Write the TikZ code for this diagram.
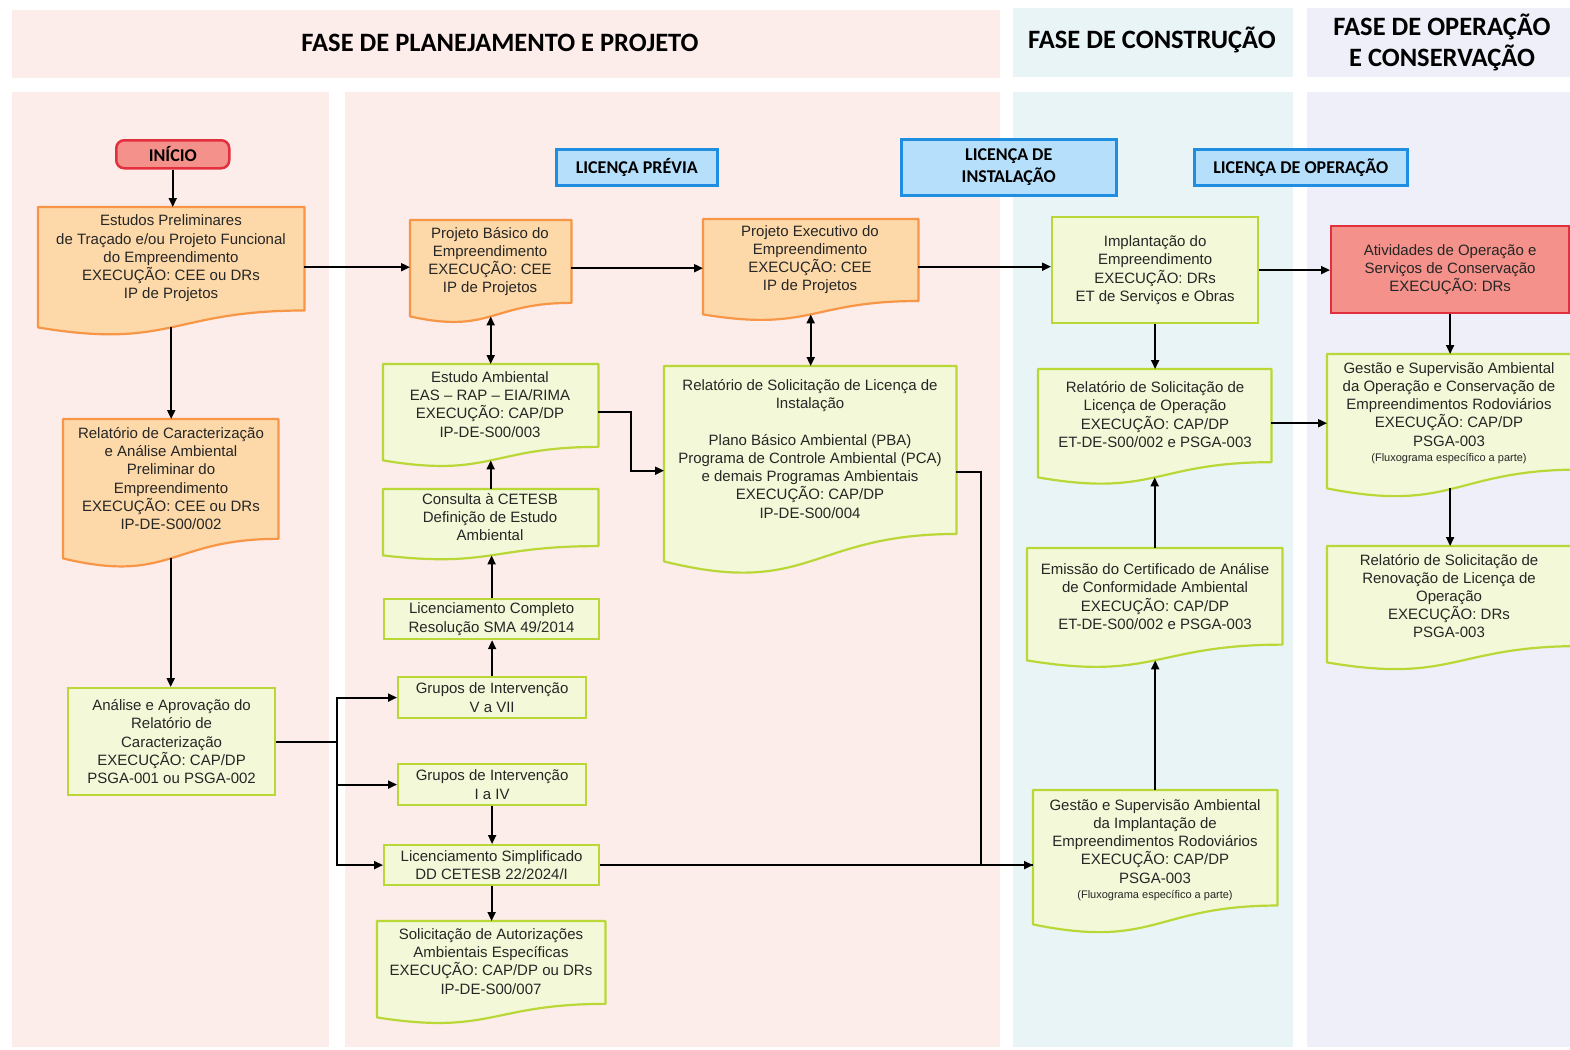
\documentclass[tikz,border=0pt]{standalone}
\usepackage{fontspec}
\setmainfont{Liberation Sans}
\newfontfamily\hdfont{Carlito}
\usetikzlibrary{arrows.meta,calc}
\definecolor{pinkbg}{HTML}{FCECEA}
\definecolor{bluebg}{HTML}{E9F4F6}
\definecolor{lavbg}{HTML}{EFEFF9}
\definecolor{orgF}{HTML}{FDD9A9}
\definecolor{orgB}{HTML}{F79646}
\definecolor{grnF}{HTML}{F3F9D8}
\definecolor{grnB}{HTML}{B9D737}
\definecolor{redF}{HTML}{F4918A}
\definecolor{redB}{HTML}{E2303F}
\definecolor{lblF}{HTML}{B5DFFB}
\definecolor{lblB}{HTML}{1F8EE0}
\definecolor{txtc}{HTML}{262626}
\pgfdeclarelayer{bg}
\pgfdeclarelayer{shp}
\pgfsetlayers{bg,shp,main}
\newcommand\docshape[3]{\draw[line width=2.2pt, draw=#3, fill=#2, line join=round]
  (#1.north west) -- (#1.north east) -- ($(#1.south east)!0.1404!(#1.north east)$)
  .. controls ($(#1.south)!0.1404!(#1.north)$) and ($(#1.south)!-0.1865!(#1.north)$) .. (#1.south west) -- cycle;}
\begin{document}
\begin{tikzpicture}[x=1pt,y=-1pt,
  ln/.style={line width=1.9pt, draw=black},
  arr/.style={ln, -{Triangle[length=9pt,width=8pt]}},
  darr/.style={ln, {Triangle[length=9pt,width=8pt]}-{Triangle[length=9pt,width=8pt]}},
  bodyf/.style={font=\fontsize{15}{18.2}\selectfont, text=txtc, align=center},
  gbox/.style={bodyf, rectangle, draw=grnB, fill=grnF, line width=2.2pt, inner sep=0pt, anchor=north west},
  rbox/.style={gbox, draw=redB, fill=redF},
  docn/.style={rectangle, inner sep=0pt, anchor=north west},
  dtext/.style={bodyf, inner sep=0pt},
  lbl/.style={rectangle, draw=lblB, fill=lblF, line width=2.5pt, inner sep=0pt, anchor=north west, align=center, font=\hdfont\bfseries\fontsize{18}{22}\selectfont, text=black},
  hdr/.style={font=\hdfont\bfseries\fontsize{26.5}{31}\selectfont, align=center, text=black, inner sep=0pt}
]
\useasboundingbox (0,0) rectangle (1570,1049);
\begin{pgfonlayer}{bg}
\fill[white] (0,0) rectangle (1570,1049);
\fill[pinkbg] (12,10) rectangle (1000,78);
\fill[bluebg] (1013,8) rectangle (1293,77);
\fill[lavbg] (1307,8) rectangle (1570,77);
\fill[pinkbg] (12,92) rectangle (329,1047);
\fill[pinkbg] (345,92) rectangle (1000,1047);
\fill[bluebg] (1013,92) rectangle (1293,1047);
\fill[lavbg] (1307,92) rectangle (1570,1047);
\end{pgfonlayer}

% headers
\node[hdr] (h1) at (500,43) {FASE DE PLANEJAMENTO E PROJETO};
\node[hdr] (h2) at (1152,40) {FASE DE CONSTRUÇÃO};
\node[hdr] (h3) at (1442,42) {FASE DE OPERAÇÃO\\E CONSERVAÇÃO};

% licence labels
\node[lbl, minimum width=161pt, minimum height=36pt] (lp) at (555,148) {LICENÇA PRÉVIA};
\node[lbl, minimum width=215pt, minimum height=56pt] (li) at (900,138) {LICENÇA DE\\INSTALAÇÃO};
\node[lbl, minimum width=213pt, minimum height=36pt] (lo) at (1193,148) {LICENÇA DE OPERAÇÃO};

% start
\node[rectangle, rounded corners=8pt, draw=redB, fill=redF, line width=2.5pt, anchor=north west,
  minimum width=113pt, minimum height=28pt, inner sep=0pt, font=\hdfont\bfseries\fontsize{18}{22}\selectfont] (ini) at (115,139) {INÍCIO};

% document-shaped nodes (outline drawn below)
\node[docn, minimum width=266pt, minimum height=120pt] (est) at (38,207) {};
\node[docn, minimum width=215pt, minimum height=139pt] (rca) at (63,419) {};
\node[docn, minimum width=161pt, minimum height=96pt] (pb) at (410,220) {};
\node[docn, minimum width=215pt, minimum height=95pt] (pe) at (703,219) {};
\node[docn, minimum width=215pt, minimum height=96pt] (ea) at (383,364) {};
\node[docn, minimum width=292pt, minimum height=195pt] (rli) at (664,366) {};
\node[docn, minimum width=215pt, minimum height=66pt] (cc) at (383,489) {};
\node[docn, minimum width=228pt, minimum height=96pt] (sol) at (377,921) {};
\node[docn, minimum width=233pt, minimum height=108pt] (rlo) at (1038,369) {};
\node[docn, minimum width=255pt, minimum height=112pt] (emi) at (1027,548) {};
\node[docn, minimum width=244pt, minimum height=134pt] (gsi) at (1033,790) {};
\node[docn, minimum width=253pt, minimum height=134pt] (gso) at (1327,354) {};
\node[docn, minimum width=253pt, minimum height=116pt] (rren) at (1327,546) {};

\begin{pgfonlayer}{shp}
\docshape{est}{orgF}{orgB}
\docshape{rca}{orgF}{orgB}
\docshape{pb}{orgF}{orgB}
\docshape{pe}{orgF}{orgB}
\docshape{ea}{grnF}{grnB}
\docshape{rli}{grnF}{grnB}
\docshape{cc}{grnF}{grnB}
\docshape{sol}{grnF}{grnB}
\docshape{rlo}{grnF}{grnB}
\docshape{emi}{grnF}{grnB}
\docshape{gsi}{grnF}{grnB}
\docshape{gso}{grnF}{grnB}
\docshape{rren}{grnF}{grnB}
\end{pgfonlayer}

% texts of document nodes
\node[dtext] (est-t) at (171,258.5) {Estudos Preliminares\\de Traçado e/ou Projeto Funcional\\do Empreendimento\\EXECUÇÃO: CEE ou DRs\\IP de Projetos};
\node[dtext] (rca-t) at (171,478.5) {Relatório de Caracterização\\e Análise Ambiental\\Preliminar do\\Empreendimento\\EXECUÇÃO: CEE ou DRs\\IP-DE-S00/002};
\node[dtext] (pb-t) at (490,261.5) {Projeto Básico do\\Empreendimento\\EXECUÇÃO: CEE\\IP de Projetos};
\node[dtext] (pe-t) at (810,259.5) {Projeto Executivo do\\Empreendimento\\EXECUÇÃO: CEE\\IP de Projetos};
\node[dtext] (ea-t) at (490,404.5) {Estudo Ambiental\\EAS – RAP – EIA/RIMA\\EXECUÇÃO: CAP/DP\\IP-DE-S00/003};
\node[dtext] (cc-t) at (490,517) {Consulta à CETESB\\Definição de Estudo\\Ambiental};
\node[dtext] (rli-t) at (810,449) {Relatório de Solicitação de Licença de\\Instalação\\[18.2pt]Plano Básico Ambiental (PBA)\\Programa de Controle Ambiental (PCA)\\e demais Programas Ambientais\\EXECUÇÃO: CAP/DP\\IP-DE-S00/004};
\node[dtext] (sol-t) at (491,961.5) {Solicitação de Autorizações\\Ambientais Específicas\\EXECUÇÃO: CAP/DP ou DRs\\IP-DE-S00/007};
\node[dtext] (rlo-t) at (1155,414.5) {Relatório de Solicitação de\\Licença de Operação\\EXECUÇÃO: CAP/DP\\ET-DE-S00/002 e PSGA-003};
\node[dtext] (emi-t) at (1155,596.5) {Emissão do Certificado de Análise\\de Conformidade Ambiental\\EXECUÇÃO: CAP/DP\\ET-DE-S00/002 e PSGA-003};
\node[dtext] (gsi-t) at (1155,850) {Gestão e Supervisão Ambiental\\da Implantação de\\Empreendimentos Rodoviários\\EXECUÇÃO: CAP/DP\\PSGA-003\\[-3pt]{\fontsize{11}{13}\selectfont (Fluxograma específico a parte)}};
\node[dtext] (gso-t) at (1449,413) {Gestão e Supervisão Ambiental\\da Operação e Conservação de\\Empreendimentos Rodoviários\\EXECUÇÃO: CAP/DP\\PSGA-003\\[-3pt]{\fontsize{11}{13}\selectfont (Fluxograma específico a parte)}};
\node[dtext] (rren-t) at (1449,596) {Relatório de Solicitação de\\Renovação de Licença de\\Operação\\EXECUÇÃO: DRs\\PSGA-003};

% rectangular nodes
\node[gbox, minimum width=207pt, minimum height=107pt] (ana) at (67,687) {Análise e Aprovação do\\Relatório de\\Caracterização\\EXECUÇÃO: CAP/DP\\PSGA-001 ou PSGA-002};
\node[gbox, minimum width=215pt, minimum height=40pt] (lc) at (383,598) {Licenciamento Completo\\Resolução SMA 49/2014};
\node[gbox, minimum width=188pt, minimum height=41pt] (gv) at (397,676) {Grupos de Intervenção\\V a VII};
\node[gbox, minimum width=188pt, minimum height=41pt] (gi) at (397,763) {Grupos de Intervenção\\I a IV};
\node[gbox, minimum width=215pt, minimum height=40pt] (ls) at (383,844) {Licenciamento Simplificado\\DD CETESB 22/2024/I};
\node[gbox, minimum width=206pt, minimum height=106pt] (imp) at (1051,216) {Implantação do\\Empreendimento\\EXECUÇÃO: DRs\\ET de Serviços e Obras};
\node[rbox, minimum width=238pt, minimum height=87pt] (atv) at (1330,225) {Atividades de Operação e\\Serviços de Conservação\\EXECUÇÃO: DRs};

% connectors
\draw[arr] (ini.south) -- (ini.south |- est.north);
\draw[arr] (est.south) -- (est.south |- rca.north);
\draw[arr] (rca.south) -- (rca.south |- ana.north);
\draw[arr] (est.east) -- (est.east -| pb.west);
\draw[arr] (pb.east) -- (pb.east -| pe.west);
\draw[arr] (pe.east) -- (pe.east -| imp.west);
\draw[arr] (imp.east) -- (imp.east -| atv.west);
\draw[darr] (pb.south) -- (pb.south |- ea.north);
\draw[darr] (pe.south) -- (pe.south |- rli.north);
\draw[arr] (cc.north) -- (cc.north |- ea.south);
\draw[arr] (lc.north) -- (lc.north |- cc.south);
\draw[arr] (gv.north) -- (gv.north |- lc.south);
\draw[arr] (gi.south) -- (gi.south |- ls.north);
\draw[arr] (ls.south) -- (ls.south |- sol.north);
\coordinate (jx) at ($(ana.east)+(61,0)$);
\draw[ln] (ana.east) -- (jx);
\draw[arr] (jx) |- (gv.west);
\draw[arr] (jx) |- (gi.west);
\draw[arr] (jx) |- (ls.west);
\draw[arr] (ea.east) -- ++(33,0) |- ([yshift=-7pt]rli.west);
\draw[ln] ([yshift=-8pt]rli.east) -- ++(25,0) |- (ls.east -| gsi.west);
\draw[arr] (ls.east) -- (ls.east -| gsi.west);
\draw[arr] (imp.south) -- (imp.south |- rlo.north);
\draw[arr] (emi.north) -- (emi.north |- rlo.south);
\draw[arr] (gsi.north) -- (gsi.north |- emi.south);
\draw[arr] (rlo.east) -- (rlo.east -| gso.west);
\draw[arr] (atv.south) -- (atv.south |- gso.north);
\draw[arr] (gso.south -| atv.south) -- (rren.north -| atv.south);
\end{tikzpicture}
\end{document}
